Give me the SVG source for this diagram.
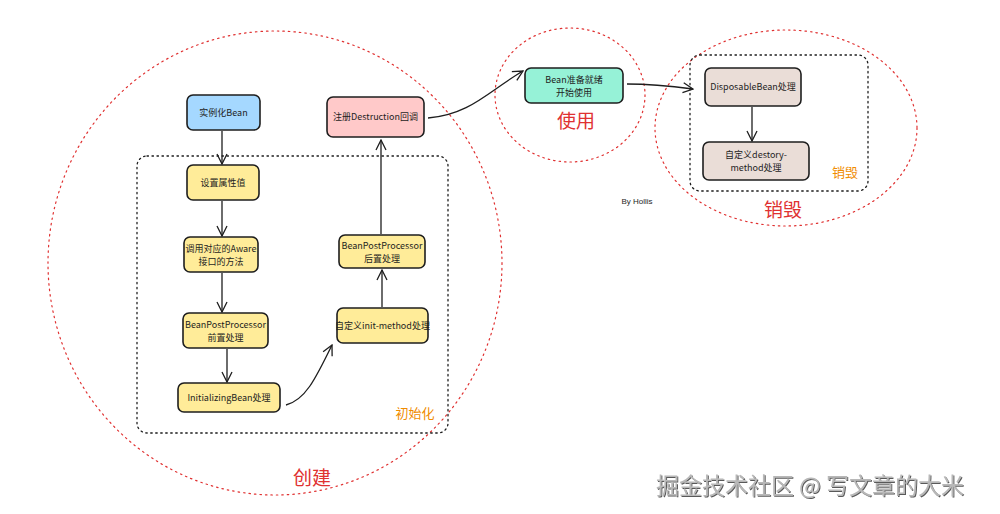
<svg xmlns="http://www.w3.org/2000/svg" width="1000" height="514" viewBox="0 0 1000 514">
<defs>
<style>
.n{stroke:#1e1e1e;stroke-width:1.6}
.t{font-family:"Noto Sans CJK SC","Liberation Sans",sans-serif;font-size:9px;fill:#1e1e1e;text-anchor:middle}
.circ{fill:none;stroke:#e03131;stroke-width:1.2;stroke-dasharray:1.5 4;stroke-linecap:round}
.box{fill:none;stroke:#1e1e1e;stroke-width:1.3;stroke-dasharray:1.5 3.5;stroke-linecap:round}
.c{fill:none;stroke:#1e1e1e;stroke-width:1.3;marker-end:url(#ah)}
.lr{font-family:"Noto Sans CJK SC",sans-serif;font-size:19px;fill:#e03131;text-anchor:middle}
.lo{font-family:"Noto Sans CJK SC",sans-serif;font-size:13px;fill:#f08c00;text-anchor:middle}
</style>
<marker id="ah" viewBox="0 0 12 12" refX="11" refY="6" markerWidth="12" markerHeight="12" markerUnits="userSpaceOnUse" orient="auto">
<path d="M1,1 L11,6 L1,11" fill="none" stroke="#1e1e1e" stroke-width="1.3"/>
</marker>
<filter id="sh" x="-5%" y="-20%" width="110%" height="140%">
<feDropShadow dx="1" dy="1" stdDeviation="0.6" flood-color="#333" flood-opacity="0.8"/>
</filter>
</defs>
<rect width="1000" height="514" fill="#ffffff"/>

<g id="groups">
<ellipse class="circ" cx="275" cy="263" rx="227" ry="232"/>
<ellipse class="circ" cx="570" cy="95" rx="75" ry="67"/>
<ellipse class="circ" cx="786" cy="128" rx="131" ry="98"/>
<rect class="box" x="137" y="156" width="311" height="277" rx="10"/>
<rect class="box" x="690" y="55" width="178" height="136" rx="10"/>
<text class="lo" x="415" y="418">初始化</text>
<text class="lo" x="845" y="177">销毁</text>
<text class="lr" x="312" y="485">创建</text>
<text class="lr" x="576" y="128">使用</text>
<text class="lr" x="783" y="217">销毁</text>
</g>

<g id="connectors">
<path class="c" d="M222,131 L222,164"/>
<path class="c" d="M222,201 L222,236"/>
<path class="c" d="M222,273 L222,312"/>
<path class="c" d="M227,349 L227,382"/>
<path class="c" d="M286,405 C305,400 315,380 332,345"/>
<path class="c" d="M382,307 L382,270"/>
<path class="c" d="M381,234 L381,140"/>
<path class="c" d="M428,118 C470,115 490,90 523,71"/>
<path class="c" d="M627,84 C650,84 670,86 693,89"/>
<path class="c" d="M752,107 L752,141"/>
</g>

<g id="n1"><rect class="n" x="187" y="95" width="73" height="35" rx="6" fill="#a5d8ff"/><text class="t" x="223.5" y="116">实例化Bean</text></g>
<g id="n2"><rect class="n" x="187" y="165" width="72" height="35" rx="6" fill="#ffec99"/><text class="t" x="223" y="186">设置属性值</text></g>
<g id="n3"><rect class="n" x="184" y="237" width="74" height="35" rx="6" fill="#ffec99"/><text class="t" x="221" y="252">调用对应的Aware</text><text class="t" x="221" y="265">接口的方法</text></g>
<g id="n4"><rect class="n" x="183" y="313" width="85" height="35" rx="6" fill="#ffec99"/><text class="t" x="225.5" y="328">BeanPostProcessor</text><text class="t" x="225.5" y="341">前置处理</text></g>
<g id="n5"><rect class="n" x="178" y="383" width="102" height="29" rx="6" fill="#ffec99"/><text class="t" x="229" y="401">InitializingBean处理</text></g>
<g id="n6"><rect class="n" x="337" y="308" width="91" height="35" rx="6" fill="#ffec99"/><text class="t" x="382.5" y="329">自定义init-method处理</text></g>
<g id="n7"><rect class="n" x="339" y="235" width="86" height="33" rx="6" fill="#ffec99"/><text class="t" x="382" y="249">BeanPostProcessor</text><text class="t" x="382" y="262">后置处理</text></g>
<g id="n8"><rect class="n" x="327" y="97" width="97" height="40" rx="6" fill="#ffc9c9"/><text class="t" x="375.5" y="120">注册Destruction回调</text></g>
<g id="n9"><rect class="n" x="525" y="68" width="98" height="35" rx="6" fill="#96f2d7"/><text class="t" x="574" y="83">Bean准备就绪</text><text class="t" x="574" y="96">开始使用</text></g>
<g id="n10"><rect class="n" x="705" y="68" width="96" height="38" rx="6" fill="#eaddd7"/><text class="t" x="753" y="90">DisposableBean处理</text></g>
<g id="n11"><rect class="n" x="703" y="142" width="106" height="38" rx="6" fill="#eaddd7"/><text class="t" x="756" y="158">自定义destory-</text><text class="t" x="756" y="171">method处理</text></g>

<text x="637" y="204" font-family="Liberation Sans,sans-serif" font-size="8" fill="#1e1e1e" text-anchor="middle">By Hollis</text>
<text x="810" y="494" font-family="Noto Sans CJK SC,sans-serif" font-size="23" fill="#b8b8b8" text-anchor="middle" filter="url(#sh)">掘金技术社区 @ 写文章的大米</text>
</svg>
